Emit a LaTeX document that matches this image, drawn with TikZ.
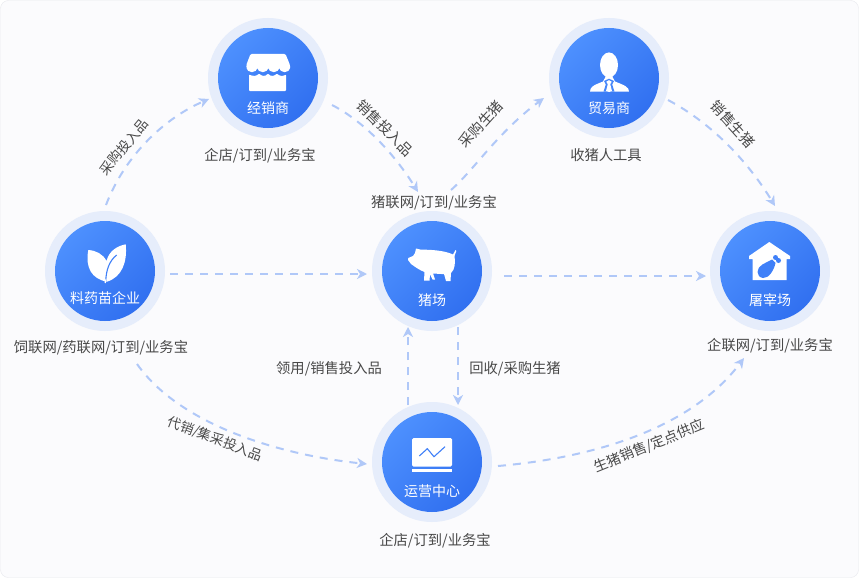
\documentclass[tikz,border=0pt]{standalone}
\usepackage{fontspec}
\setmainfont{Noto Sans CJK SC}
\usetikzlibrary{arrows.meta}
\definecolor{cardbg}{HTML}{FBFBFD}
\definecolor{cardline}{HTML}{E8E9EE}
\definecolor{haloc}{HTML}{E6EDFB}
\definecolor{blueA}{HTML}{4D90FE}
\definecolor{blueB}{HTML}{3170F0}
\definecolor{iconblue}{HTML}{3F80F8}
\definecolor{flow}{HTML}{B0C8F8}
\definecolor{txt}{HTML}{484848}
\tikzset{
  halo/.style={circle,fill=haloc,minimum size=120pt,inner sep=0pt},
  disc/.style={circle,minimum size=100pt,inner sep=0pt,top color=blueA,bottom color=blueB,shading angle=45},
  inlabel/.style={text=white,font=\fontsize{14}{16}\selectfont,inner sep=0pt},
  caption/.style={text=txt,font=\fontsize{14.3}{16}\selectfont,inner sep=0pt},
  slant/.style={text=txt,font=\fontsize{13.5}{16}\selectfont,inner sep=0pt},
  flowline/.style={draw=flow,line width=2pt,dash pattern=on 8pt off 7pt,-{Stealth[length=10pt,width=10pt,inset=3pt,fill=flow]}},
  icon/.style={fill=white,draw=none},
}
\begin{document}
\begin{tikzpicture}[x=1pt,y=-1pt]
\useasboundingbox (0,0) rectangle (859,578);
\fill[white] (0,0) rectangle (859,578);
\draw[cardline,fill=cardbg,rounded corners=8pt] (0.5,0.5) rectangle (858.5,577.5);

% halos and discs
\node[halo] (h1) at (268,78) {}; \node[disc] (d1) at (268,78) {};
\node[halo] (h2) at (609,78) {}; \node[disc] (d2) at (609,78) {};
\node[halo] (h3) at (105,271) {}; \node[disc] (d3) at (105,271) {};
\node[halo] (h4) at (432,271) {}; \node[disc] (d4) at (432,271) {};
\node[halo] (h5) at (770,271) {}; \node[disc] (d5) at (770,271) {};
\node[halo] (h6) at (432,462) {}; \node[disc] (d6) at (432,462) {};

% store icon
\fill[icon,rounded corners=1.2pt] (250.5,54) -- (285.5,54) -- (290,65) -- (290,67)
  arc[start angle=0,end angle=180,x radius=5.35,y radius=5.2] arc[start angle=0,end angle=180,x radius=5.5,y radius=5.2]
  arc[start angle=0,end angle=180,x radius=5.5,y radius=5.2] arc[start angle=0,end angle=180,x radius=5.35,y radius=5.2]
  -- (246.3,65) -- cycle;
\fill[icon,rounded corners=.8pt] (249,74.5) .. controls (253,76.5) and (257,76) .. (259,73.5)
  .. controls (262,76.5) and (265.5,76.5) .. (268,73.5) .. controls (270.5,76.5) and (274,76.5) .. (277,73.5)
  .. controls (279,76) and (283,76.5) .. (286,74.5) -- (286,91) -- (249,91) -- cycle;

% person icon
\fill[icon] (609,65) ellipse[x radius=9,y radius=12.6];
\fill[icon] (590,91.7) .. controls (590,87) and (593,85.5) .. (603,81.5) -- (606,76) -- (612,76) -- (615,81.5)
  .. controls (625,85.5) and (629,87) .. (629,91.7) -- cycle;
\fill[blueA!70!blueB] (603.5,91.7) -- (605.8,84.5) -- (604,81) -- (609,78.7) -- (614,81) -- (612.2,84.5) -- (614.5,91.7) -- cycle;
\fill[icon] (606.3,81.7) -- (609,80.2) -- (611.7,81.7) -- (610.2,84.2) -- (612,91) -- (609,92) -- (606,91) -- (607.8,84.2) -- cycle;

% leaf icon
\fill[icon] (88.3,250) .. controls (96,250.5) and (103,254) .. (106.5,261)
  .. controls (109,251) and (117,246) .. (125.7,244.3)
  .. controls (127.5,262) and (122,277) .. (107,281.7)
  .. controls (92,279) and (85,268) .. (88.3,250) -- cycle;
\draw[iconblue,line width=1.1pt] (105.8,281) .. controls (106,271) and (109,261) .. (116.7,255);
\draw[white,line width=1.3pt] (105.6,279.5) -- (105.2,283);

% pig icon
\fill[icon] (408.3,258) -- (413,256) -- (415,253) -- (416,248.5) -- (421,249.7)
  .. controls (430,249.5) and (445,250.5) .. (453,254.5) -- (455.5,250) -- (456.3,251) -- (454.5,256)
  .. controls (455.5,262) and (455,270) .. (451,273) -- (450.5,281) -- (446,281) -- (444,274) -- (441.5,274) -- (433,273.5)
  -- (435,279.5) -- (432.5,279.5) -- (430,274.5) -- (429.5,280.5) -- (424,280.5) -- (424.5,272)
  .. controls (419,270) and (414,266) .. (411,264) -- (408,260) -- cycle;

% house icon
\fill[icon] (769.3,242) -- (790,256) -- (790,259) -- (786.7,259) -- (786.7,280) -- (752.7,280) -- (752.7,259) -- (749,259) -- (749,256) -- cycle;
\fill[iconblue] (757.5,272) .. controls (757.5,265) and (766,263) .. (772,259.5) -- (775.5,263)
  .. controls (774,270) and (769,278.5) .. (763,278) .. controls (759.5,277.5) and (757.5,275) .. (757.5,272) -- cycle;
\fill[iconblue] (775.5,257.5) circle[radius=2.5] (778.5,260.5) circle[radius=2.5];

% chart icon
\fill[icon,rounded corners=1.5pt] (412,438) rectangle (452,466.7);
\fill[icon] (412,469) rectangle (452,472);
\draw[iconblue,line width=1.1pt] (419.3,456) -- (427.3,448.7) -- (434,456.7) -- (445,446.7);

% labels inside discs
\node[inlabel] (l1) at (268,108) {经销商};
\node[inlabel] (l2) at (609,108) {贸易商};
\node[inlabel] (l3) at (105,298) {料药苗企业};
\node[inlabel] (l4) at (432,300) {猪场};
\node[inlabel] (l5) at (770,300) {屠宰场};
\node[inlabel] (l6) at (432,491) {运营中心};

% captions
\node[caption] (c1) at (260,155.5) {企店/订到/业务宝};
\node[caption] (c2) at (606,155.5) {收猪人工具};
\node[caption] (c3) at (434,202.5) {猪联网/订到/业务宝};
\node[caption] (c4) at (101,347.5) {饲联网/药联网/订到/业务宝};
\node[caption] (c5) at (770,345.5) {企联网/订到/业务宝};
\node[caption] (c6) at (435,540.5) {企店/订到/业务宝};

% flow labels
\node[slant,rotate=50] (f1) at (124,147) {采购投入品};
\node[caption,rotate=-45] (f2) at (385,128) {销售投入品};
\node[caption,rotate=48] (f3) at (481,124) {采购生猪};
\node[caption,rotate=-48] (f4) at (733,124) {销售生猪};
\node[caption] (f5) at (329,368.5) {领用/销售投入品};
\node[caption] (f6) at (515,368.5) {回收/采购生猪};
\node[slant,rotate=-21] (f7) at (215,439) {代销/集采投入品};
\node[slant,rotate=22,font=\fontsize{14}{16}\selectfont] (f8) at (649,446) {生猪销售/定点供应};

% connector ends
\coordinate (a1) at (106,205); \coordinate (b1) at (209,99);
\coordinate (a2) at (332,105); \coordinate (b2) at (418,192);
\coordinate (a3) at (451,190); \coordinate (b3) at (544,98);
\coordinate (a4) at (668,100); \coordinate (b4) at (775,206);
\coordinate (a5) at (170,274); \coordinate (b5) at (367,274);
\coordinate (a6) at (504,276); \coordinate (b6) at (706,276);
\coordinate (a7) at (408,405); \coordinate (b7) at (408,327);
\coordinate (a8) at (458,327); \coordinate (b8) at (458,405);
\coordinate (a9) at (137,364); \coordinate (b9) at (367,464);
\coordinate (a10) at (498,466); \coordinate (b10) at (744,358);

\draw[flowline] (a1) .. controls (125,155) and (165,118) .. (b1);
\draw[flowline] (a2) .. controls (365,122) and (395,155) .. (b2);
\draw[flowline] (a3) .. controls (474,170) and (498,132) .. (b3);
\draw[flowline] (a4) .. controls (715,125) and (750,165) .. (b4);
\draw[flowline] (a5) -- (b5);
\draw[flowline] (a6) -- (b6);
\draw[flowline] (a7) -- (b7);
\draw[flowline] (a8) -- (b8);
\draw[flowline] (a9) .. controls (180,425) and (280,455) .. (b9);
\draw[flowline] (a10) .. controls (590,458) and (690,430) .. (b10);
\end{tikzpicture}
\end{document}
